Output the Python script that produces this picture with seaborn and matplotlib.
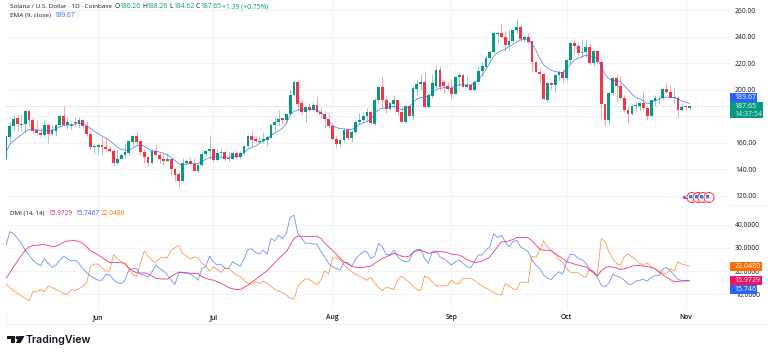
import matplotlib
matplotlib.use("Agg")
import matplotlib.pyplot as plt
import matplotlib.patches as mp
import pandas as pd
import seaborn as sns

opens = [147.5,164.5,173,178.5,173.5,174.5,184,177,169.5,167.5,166,173.5,167,169,173.5,180,173.5,172.5,176,174.5,177,173,167,156.5,157,158.5,157,155.5,154,144.5,148,150.5,152.5,161,165.5,161.5,153,149,145,153.5,151,148,146.5,147.5,140.5,136.5,131.5,144.5,146.5,144,139,143,151.5,153.5,155,147,152,153,148.5,148,152,149,152,157.5,165,
163,161,161.5,162.5,164,173.5,176,178.5,177,182,196,206,190,183,187,185,188.5,183.5,182,178,172.5,163,159,162.5,170,164,168.5,175.5,177,180.5,183.5,174.5,192,202,192.5,185.5,189.5,192,183,176,188,180.5,200.5,204,206,187,195.5,202.5,215,205.5,203,201,197,209.5,211,202,203.5,200,206,214,217,223.5,228.5,242,242.5,239.5,234,
237,245,247.5,238,239.5,236.5,221,213.5,212,192.5,205,203.5,211,213,209,222,235,233,228,228.5,232.5,220,229.5,221,189,177.5,197.5,209,203,194,185,182,187.5,188,190,186,180.5,191.5,193.5,193.5,200.5,198.5,194,194,185,187.5,186.26]
highs = [165,176,180,181,182,185,185,179,177,171,177,174.5,174,174.5,181,188,179.5,176,179.5,179.5,177.5,175.5,167.5,158.5,159,163.5,163.5,157.5,155,155,152.5,160,162.5,166,169,162,155,150,154.5,159,153,152,152,148,141,139,148.5,148,149.5,148.5,145,154,155,165,155.5,155,156,154,153,154,154,154,158.5,166,169,
165,165,168.5,166,175,179.5,185,179.5,182.5,200,207.5,206.5,192.5,188,190,191,195.5,186,184,182.5,173,166,163.5,171,171,169.5,177,182.5,183.5,186,185,193.5,203,210,196,191,196,192.5,187.5,188.5,188.5,202.5,208,212,214,197.5,212,217.5,218,207.5,206,207.5,210.5,213.5,212,210.5,204.5,207.5,217.5,220,226,230,244.5,244.5,250,244.5,245,
246,253.5,248.5,241,242.5,237,221.5,216,212.5,206,206,212,215,215.5,223,236,237.5,235.5,237.5,238,235.5,230,230,224,190,198.5,209.5,211,210,196,188,189,191,191,198,187.5,192.5,196,196,202,205,203.5,202,195,190,188,188.26]
lows = [147.5,161,169,169,169,167.5,172.5,167.5,166,164.5,165,160,166,165.5,173,173,170.5,170,172.5,171,171,165.5,155.5,152,152,151,153.5,153,142.5,143.5,147.5,148.5,151,157.5,158.5,151,145,142.5,144.5,150,145,143.5,146,136,131,126.5,131,143.5,143,138.5,138,142.5,150,147.5,146,146,148.5,146,146.5,147.5,148,148,151,156.5,157.5,
160.5,160,160,157.5,163.5,169,172.5,174.5,176,181.5,195,185,182,176,184,184,182.5,178,171,171,162.5,156,157.5,161,162.5,161,167.5,174.5,176,176.5,174.5,173.5,191,186,182.5,185,186,181,175.5,175,180,177.5,196,200,185.5,186,194,201,200,197.5,199,194,197,202.5,202,202,200,199.5,205.5,210.5,216,223,228,235,239,230,230,
236,243,236,236,235.5,213.5,213,205,192.5,191,200,198,207.5,205,207.5,219,226,225,224.5,224.5,218.5,217.5,219,177.5,173,173.5,196,191,193,183.5,174.5,181,184,184,184,177.5,180,187.5,189,193,197.5,193.5,190,179.5,184,184.5,184.62]
closes = [165,173,178,174,174.5,184,177,169,167.5,166,173.5,167,169.5,173.5,180,173.5,176,173.5,175,177,173,166.5,156.5,157.5,158.5,157,155.5,153.5,144.5,148,150.5,153,161.5,165.5,160.5,153,149,145,153.5,151,147.5,146.5,147.5,140,135.5,131.5,145,146.5,144,139,143,151.5,153.5,155,147,152.5,153,148,147.5,152,149,152.5,157.5,165,162.5,
161.5,161.5,163,164.5,173.5,176,178,177.5,182,196,206,189.5,183,187,185,188.5,183,181.5,178,172.5,163,159,162.5,170,164,168.5,176,177.5,180.5,183,175,192,202,192.5,185.5,190,192,183,176,188,180.5,201,204,206,187,196,205,215,202,203,200.5,197,209.5,211,202,203.5,200,206,214,217.5,224,228.5,242.5,242.5,239.5,234,237,
245,247.5,238,239.5,236,220.5,213,211.5,193,205,203.5,211,213,209,222.5,235,233,228,228.7,232.5,220,229.5,221,189,177.5,197.5,209,203,194,185,182,188,188.5,190,186,180.5,192,194,194,200.5,198.5,194,194.5,185,187,186.8,187.65]
ema9 = [153,158.7,161.5,164,166,168.5,170,170.3,169.8,169.5,169.5,169.2,169.5,170.5,172,173,173.5,173.7,174.2,174.5,174.5,173,171,168.8,167,165.2,163.7,161.7,159.2,156.7,155.2,154.5,154.5,156,158,158.5,157.5,155.7,154.2,153.7,153,152.2,151,149,146.7,144.2,143.2,144,144.7,144.7,144.5,146,147.5,149,149.2,149.5,149.2,149.2,149.2,149.5,149.5,150.5,152.5,155.2,156.7,157.5,
159.5,161.5,163.7,165.5,167.5,169,171,174.5,181,183.7,184.7,185,185,185.2,185.2,184.7,183,180,176.7,173,171.5,170.7,170.5,170,170.2,171.7,173.7,175,176,177.5,182,185,186,186.5,187.2,187.5,186,185,185.7,187,190.5,193,194,194.5,195,197.5,200,201,201.5,201.5,201.2,203,203.7,203.7,203.7,203.5,205,207.5,210.5,215.5,220,225,228,229.5,230.5,232.5,
234,236,237.5,237.7,237.7,234.5,229.5,223.5,218.7,216.2,214.5,213.7,213.2,212.7,215.7,219,222.2,223.7,225,226,225.7,224.7,223.7,217.5,211.5,208.2,207,207,206.2,203,200,196.7,194.2,193,191.7,189.2,190.5,191.7,192.7,194.2,194.5,194.2,194,193,191.5,190.5,189.67]
di_plus = [31.1,36.9,36.1,34,31.9,29,26.9,24.7,23.3,22.3,25.4,23.3,21.6,22.6,24.7,26.4,25.4,24.3,24.7,23.3,21.1,19.3,17.9,16.9,16.1,16.1,18.7,18.3,16.4,15,14.7,16.1,20.4,21.1,21.1,18.7,18.3,17.3,19.7,22.6,21.1,20.1,18.3,16.1,14.3,19.3,19.3,19,18.7,17.6,16.1,21.1,21.9,26.4,24,22.6,23,21.1,21.1,24,23,22.1,25.4,29.3,29.6,27.9,
27.3,29,27.3,34,33,35.4,34,36.1,43,44,36.1,34,31.9,32.1,31.6,31.6,28.3,26.1,23.3,21.9,21.1,20.4,23.7,23.7,22.1,25,26.9,28.3,28.3,25.4,26.4,31.9,30.4,27.1,26.9,29,26.1,24.7,24,24.3,28.3,29.3,29.3,25.4,23.3,28.3,28.7,26.1,25.4,24,22.6,24,24.7,23.3,21.9,21.4,24,26.9,26.9,29,30.4,36.1,34.4,35.4,32.6,30.4,
32.6,33.3,30.4,29.4,28.3,24.7,22.6,21.1,18.3,16.9,16.4,18.3,19.7,18.7,24,27.3,27.1,25.4,25,23.3,21.1,19.7,17.3,14,13.3,14.7,18.7,17.9,17.3,16.1,14.4,14.3,15.7,16.1,16.4,15.7,17.3,18.1,18.1,20.9,21.6,20.1,18.3,16.4,16,15.7,15.7467]
adx = [16.9,19.3,21.9,24.3,26.7,29,30.4,30.9,31.1,31.3,31.4,31,30.4,30.7,31.4,32.4,32.9,33,33.1,32.7,31.9,30.4,28.7,27.9,26.9,25.9,24.7,23.7,23.7,23.6,23.6,23.3,21.4,20.1,19.3,19.1,19.3,18.7,17.9,17,16.7,16.6,16.6,17.6,18.7,19.6,19.4,19.3,19.1,19,19,17.6,16.9,16.4,16.1,15.4,14.7,13.9,12.9,12.4,12.1,12.1,13,14,15.3,16.4,
17.7,19,20.1,21.9,23.6,25.4,26.9,28.3,31.1,34,35,35,34.9,34.9,34.9,35,34,32.1,30.4,28.9,27.3,25.6,24,23,22.1,21.7,21.4,21.6,21.9,22.1,23.3,24.4,25.4,26.1,26.9,27.6,27.1,26.4,26.1,26.4,27.9,28.7,29,28.3,27.6,27.9,28.3,28.3,28.3,27.9,27.3,27.1,26.9,26.1,25,24.3,23.7,23.9,24.3,25.1,26.1,28.3,30.4,32.6,32.6,33,
33.6,34.4,34.4,34.4,34.3,33,31.1,29.4,29,29,28.7,27.6,26.4,25.3,24,23.6,23,22.6,22.1,21.9,20.4,19.3,17.9,20.1,21.4,21.9,21.7,21.3,20.7,21,21.4,22.1,22.4,22.4,22.1,21.9,21.6,20.9,19.7,18.4,17.3,16.4,15.4,15.6,15.7,15.9,15.9729]
di_minus = [14.4,12.9,11.6,10.4,9.3,8.3,7.3,11.1,11.1,12.1,11.1,13.6,12.9,12.1,11.3,10.3,10,12.1,11.7,12.4,13.6,15,21.9,23,23,21.4,20,20.1,27.1,25.4,24,22.9,20.9,18.7,17.6,23.3,28.6,26.4,24.7,23.6,25.4,25.9,25.7,29,30,31.1,27.6,26.4,25.1,26.1,25.7,23.6,22.1,20,21.9,20.7,19.4,21.4,21.1,19.7,18.3,17.6,16.1,14.7,14.4,15.4,
14.7,15.7,14.7,13.6,12.1,11.4,10.7,9.7,8.3,7.9,13.3,15.4,16.7,16.4,15.3,14.1,16.1,20.1,18.7,25.4,25.9,25,22.6,21.1,19.7,18.7,17.9,16.9,16.1,17.3,15,13,11.6,13,12.7,12.1,16.1,17.9,16.4,15.4,13.6,12.1,11.6,17.9,17.1,15.4,13.7,13.6,13.7,13.7,16.1,14.7,14.7,16.9,16.9,16.9,15.9,14.7,13.6,12.6,11.9,10.7,10.1,9.7,14.7,13.6,
12.4,12.1,15.3,15.3,15.1,26.4,25.9,29,33,30.4,29,26.9,25.1,23.6,21.1,19.4,19.3,19.3,17.9,17.3,20.7,19.7,18.3,34,32.6,28.3,25.4,23.3,22.6,26.1,27.3,26.1,25,23.3,22.6,23.6,21.9,21.1,20,19,18.7,21.1,20.1,24,23,22.6,22.048]
price_ticks = [120,140,160,200,220,240,260]
dmi_ticks = [10,20,30,40]
month_ticks = ["2024-06-01","2024-07-01","2024-08-01","2024-09-01","2024-10-01","2024-11-01"]
month_labels = ["Jun","Jul","Aug","Sep","Oct","Nov"]
last_close = 187.65

lens = [len(a) for a in (opens,highs,lows,closes,ema9,di_plus,adx,di_minus)]
N = min(lens)
dates = pd.date_range("2024-05-08", periods=N, freq="D")
df = pd.DataFrame({"date":dates,"o":opens[:N],"h":highs[:N],"l":lows[:N],"c":closes[:N],"ema":ema9[:N],
                   "plus":di_plus[:N],"adx":adx[:N],"minus":di_minus[:N]})

sns.set_theme(style="white")
plt.rcParams["font.family"] = ["Open Sans","DejaVu Sans"]
W,H = 768,356
fig = plt.figure(figsize=(W/100,H/100),dpi=100,facecolor="white")
def box(l,t,r,b): return [l/W,1-b/H,(r-l)/W,(b-t)/H]
L,R = 6,730
ax = fig.add_axes(box(L,0,R,205))
ax2 = fig.add_axes(box(L,205,R,309),sharex=ax)
GRID = "#f1f3f7"; GREEN="#089981"; RED="#f23645"; TXT="#131722"
up = df.c>=df.o; col = up.map({True:GREEN,False:RED})
ax.vlines(df.date,df.l,df.h,colors=col.tolist(),lw=0.4,alpha=.8,zorder=3)
ax.bar(df.date,(df.c-df.o).abs(),bottom=df[["o","c"]].min(axis=1),width=0.72,color=col.tolist(),lw=0,zorder=4)
sns.lineplot(data=df,x="date",y="ema",ax=ax,color="#2962ff",lw=0.55,alpha=.8,zorder=5)
ax.axhline(last_close,color=GREEN,lw=0.5,ls=(0,(3,2)),alpha=.35,zorder=2)
sns.lineplot(data=df,x="date",y="adx",ax=ax2,color="#f7125f",lw=0.6,alpha=.85)
sns.lineplot(data=df,x="date",y="plus",ax=ax2,color="#2962ff",lw=0.55,alpha=.75)
sns.lineplot(data=df,x="date",y="minus",ax=ax2,color="#ff6d00",lw=0.55,alpha=.75)

x0 = pd.Timestamp("2024-05-08"); d = pd.Timedelta(days=(R-L)/3.84)
ax.set_xlim(x0,x0+d)
ax.set_ylim(113.2,267.53); ax2.set_ylim(3.73,48.37)
mt = pd.to_datetime(month_ticks)
for a,t in ((ax,price_ticks),(ax2,dmi_ticks)):
    a.set_yticks(t+([180] if a is ax else [])); a.set_xticks(mt)
    a.grid(True,color=GRID,lw=0.7); a.set_axisbelow(True)
    a.set_xlabel(""); a.set_ylabel("")
    for s in a.spines.values(): s.set_visible(False)
    a.yaxis.tick_right(); a.tick_params(length=0,labelsize=4.9,labelcolor=TXT,pad=3.6)
ax.tick_params(labelbottom=False)
ax.set_yticklabels([f"{v:.2f}" if v!=180 else "" for v in price_ticks+[180]])
ax2.set_yticklabels([f"{v:.4f}" for v in dmi_ticks])
ax2.set_xticklabels(month_labels,fontsize=4.9,fontweight="semibold",color=TXT)
ax2.tick_params(axis="x",pad=3.6)

def fline(x1,y1,x2,y2,c=GRID,lw=0.7,z=0):
    fig.add_artist(plt.Line2D([x1/W,x2/W],[1-y1/H,1-y2/H],color=c,lw=lw,zorder=z))
fline(5.5,0,5.5,324); fline(5.5,205,768,205); fline(5.5,324,768,324)

def ftext(x,y,s,c=TXT,size=5.0,**k):
    return fig.text(x/W,1-y/H,s,color=c,fontsize=size,va="center",**k)
ftext(10,6.5,"Solana / U.S. Dollar · 1D · Coinbase",size=4.6)
gc="#089981"
xx=115
for lab,v in (("O","186.26"),("H","188.26"),("L","184.62"),("C","187.65")):
    ftext(xx,6.5,lab,size=4.9); ftext(xx+4.6,6.5,v,gc,size=4.9); xx+=27
ftext(xx-1,6.5,"+1.39 (+0.75%)",gc,size=4.9)
ftext(10,15.5,"EMA (9, close)",size=4.6); ftext(54,15.5,"189.67","#2962ff",size=4.7)
ftext(10,213.5,"DMI (14, 14)",size=4.4)
ftext(48.3,213.5,"15.9729","#f7125f",size=4.7); ftext(75,213.5,"15.7467","#2962ff",size=4.7); ftext(100.7,213.5,"22.0480","#ff6d00",size=4.7)

def tag(l,t,r,b,c,lines):
    fig.add_artist(mp.Rectangle((l/W,1-b/H),(r-l)/W,(b-t)/H,color=c,lw=0,transform=fig.transFigure,zorder=6))
    for y,s,al in lines:
        ftext(l+4.5,y,s,"white",size=5.0,alpha=al,zorder=7)
tag(730,93,757,101.7,"#2962ff",[(97.4,"189.67",1)])
tag(730,102.3,762.5,118.3,GREEN,[(106.3,"187.65",1),(114,"14:37:54",.85)])
tag(730,262,762,271,"#ff6d00",[(266.5,"22.0480",1)])
tag(730,276,762,284.5,"#f7125f",[(280.3,"15.9729",1)])
tag(730,285,757,293.5,"#2962ff",[(289.3,"15.7467",1)])

# event flags
def fcirc(x,y,r,**k):
    fig.add_artist(mp.Ellipse((x/W,1-y/H),2*r/W,2*r/H,transform=fig.transFigure,zorder=8,**k))
for x in (692,698,703,709):
    fcirc(x,197.5,5,fc="white",ec="#f23645",lw=0.7)
    for yy in (198.5,200.5): fline(x-3.5,yy,x+3.5,yy,"#f9a0a8",0.5,9)
    fig.add_artist(mp.Rectangle(((x-3.5)/W,1-197.5/H),3.5/W,3/H,color="#2f7de8",lw=0,transform=fig.transFigure,zorder=9))
fig.add_artist(plt.Line2D([683.5/W,688/W],[1-197.5/H]*2,color="#7b2ff0",lw=.7,zorder=7))
fig.text(684/W,1-197.5/H,"◂",color="#7b2ff0",fontsize=5,va="center",ha="center",zorder=7,family="DejaVu Sans")

# TradingView wordmark
k="#131722"
def poly(pts): fig.add_artist(mp.Polygon([(x/W,1-y/H) for x,y in pts],closed=True,color=k,lw=0,transform=fig.transFigure))
poly([(6.5,336),(15,336),(15,343),(11.2,343),(11.2,339.2),(6.5,339.2)])
fcirc(17.3,337.7,1.7,fc=k,ec="none")
poly([(19,336),(24.5,336),(20.5,343),(16,343)])
ftext(26,340,"TradingView",k,size=7.6,fontweight="semibold",family="Inter")
fig.savefig("out.png",dpi=100)
